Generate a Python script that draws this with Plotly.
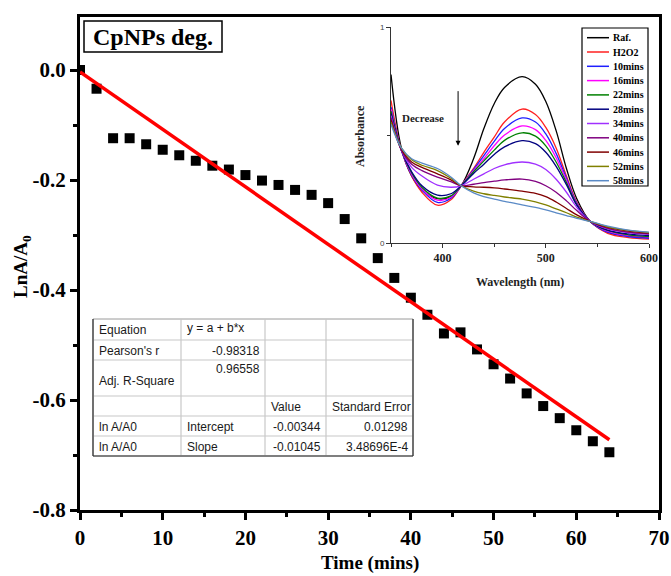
import plotly.graph_objects as go

# ---------------- main kinetics data ----------------
time_min = [0, 2, 4, 6, 8, 10, 12, 14, 16, 18, 20, 22, 24, 26, 28, 30, 32,
            34, 36, 38, 40, 42, 44, 46, 48, 50, 52, 54, 56, 58, 60, 62, 64]
ln_a_a0 = [0.0, -0.034, -0.124, -0.124, -0.135, -0.145, -0.155, -0.165, -0.174,
           -0.181, -0.191, -0.201, -0.209, -0.218, -0.227, -0.242, -0.271,
           -0.306, -0.342, -0.378, -0.414, -0.445, -0.479, -0.477, -0.508,
           -0.535, -0.561, -0.588, -0.611, -0.633, -0.655, -0.675, -0.695]
fit_intercept = -0.00344
fit_slope = -0.01045
fit_x = [0, 64]

x_ticks = [0, 10, 20, 30, 40, 50, 60, 70]
y_ticks = [0.0, -0.2, -0.4, -0.6, -0.8]
y_ticklabels = ["0.0", "-0.2", "-0.4", "-0.6", "-0.8"]

# ---------------- inset spectra data ----------------
wavelength = [350, 360, 370, 380, 395, 408, 418, 430, 440, 450, 460, 477,
              490, 500, 510, 520, 530, 543, 560, 580, 600]
series_names = ["Raf.", "H2O2", "10mins", "16mins", "22mins", "28mins",
                "34mins", "40mins", "46mins", "52mins", "58mins"]
series_colors = ["#000000", "#ff2020", "#1f1fff", "#ff00ff", "#008000", "#000080",
                 "#a030ff", "#800080", "#800000", "#808000", "#5a8ac6"]
abs_raf = [0.78, 0.44, 0.31, 0.245, 0.205, 0.215, 0.265, 0.39, 0.53, 0.645, 0.72, 0.77,
           0.735, 0.655, 0.52, 0.345, 0.205, 0.1, 0.05, 0.032, 0.025]
abs_h2o2 = [0.66, 0.43, 0.31, 0.235, 0.175, 0.2, 0.265, 0.345, 0.42, 0.49, 0.56, 0.62,
            0.595, 0.535, 0.44, 0.31, 0.19, 0.1, 0.045, 0.025, 0.018]
abs_10 = [0.63, 0.43, 0.315, 0.245, 0.188, 0.207, 0.265, 0.34, 0.405, 0.47, 0.53, 0.579,
          0.56, 0.505, 0.415, 0.3, 0.185, 0.1, 0.05, 0.03, 0.022]
abs_16 = [0.62, 0.43, 0.32, 0.25, 0.198, 0.212, 0.265, 0.335, 0.39, 0.45, 0.5, 0.542,
          0.525, 0.475, 0.395, 0.29, 0.18, 0.1, 0.055, 0.035, 0.027]
abs_22 = [0.61, 0.43, 0.325, 0.257, 0.208, 0.218, 0.265, 0.33, 0.38, 0.43, 0.475, 0.51,
          0.495, 0.45, 0.375, 0.28, 0.178, 0.1, 0.058, 0.038, 0.03]
abs_28 = [0.60, 0.43, 0.33, 0.265, 0.222, 0.228, 0.265, 0.322, 0.365, 0.41, 0.445, 0.474,
          0.46, 0.42, 0.355, 0.27, 0.175, 0.1, 0.06, 0.042, 0.034]
abs_34 = [0.59, 0.43, 0.35, 0.31, 0.268, 0.258, 0.265, 0.295, 0.32, 0.345, 0.362, 0.375,
          0.365, 0.34, 0.295, 0.235, 0.165, 0.1, 0.065, 0.048, 0.04]
abs_40 = [0.58, 0.43, 0.365, 0.335, 0.305, 0.284, 0.265, 0.272, 0.28, 0.286, 0.292, 0.296,
          0.285, 0.265, 0.235, 0.195, 0.15, 0.1, 0.068, 0.05, 0.042]
abs_46 = [0.57, 0.435, 0.375, 0.35, 0.32, 0.292, 0.265, 0.26, 0.258, 0.255, 0.25, 0.24,
          0.23, 0.215, 0.19, 0.16, 0.13, 0.1, 0.072, 0.055, 0.046]
abs_52 = [0.56, 0.44, 0.385, 0.36, 0.335, 0.3, 0.265, 0.24, 0.228, 0.22, 0.213, 0.203,
          0.19, 0.176, 0.158, 0.14, 0.12, 0.1, 0.075, 0.058, 0.048]
abs_58 = [0.55, 0.44, 0.39, 0.37, 0.345, 0.306, 0.265, 0.232, 0.215, 0.203, 0.193, 0.176,
          0.165, 0.153, 0.14, 0.127, 0.114, 0.1, 0.078, 0.06, 0.05]
spectra = [abs_raf, abs_h2o2, abs_10, abs_16, abs_22, abs_28,
           abs_34, abs_40, abs_46, abs_52, abs_58]

# ---------------- fit table text ----------------
table_rows = [
    ["Equation", "y = a + b*x", "", ""],
    ["Pearson's r", "-0.98318", "", ""],
    ["Adj. R-Square", "0.96558", "", ""],
    ["", "", "Value", "Standard Error"],
    ["ln A/A0", "Intercept", "-0.00344", "0.01298"],
    ["ln A/A0", "Slope", "-0.01045", "3.48696E-4"],
]

W, H = 671, 576


def xp(px):
    return px / W


def yp(py):
    return 1 - py / H


SERIF = "Liberation Serif"
SANS = "Liberation Sans"

fig = go.Figure()

# main scatter + fit
fig.add_trace(go.Scatter(x=time_min, y=ln_a_a0, mode="markers",
                         marker=dict(symbol="square", size=10, color="black"),
                         xaxis="x", yaxis="y"))
fit_y = [fit_intercept + fit_slope * t for t in fit_x]
fig.add_trace(go.Scatter(x=fit_x, y=fit_y, mode="lines",
                         line=dict(color="#ff0000", width=3.5),
                         xaxis="x", yaxis="y"))

# inset spectra
for name, col, vals in zip(series_names, series_colors, spectra):
    fig.add_trace(go.Scatter(x=wavelength, y=vals, mode="lines", name=name,
                             line=dict(color=col, width=1.3, shape="spline", smoothing=1.0),
                             xaxis="x2", yaxis="y2"))

shapes = []
annotations = []

# inset manual legend
leg_left, leg_top, leg_right, leg_bottom = 582, 28, 648, 186
shapes.append(dict(type="rect", xref="paper", yref="paper",
                   x0=xp(leg_left), x1=xp(leg_right), y0=yp(leg_bottom), y1=yp(leg_top),
                   line=dict(color="black", width=1.2), fillcolor="white", layer="above"))
for i, (name, col) in enumerate(zip(series_names, series_colors)):
    yc = 37.7 + i * 14.3
    shapes.append(dict(type="line", xref="paper", yref="paper",
                       x0=xp(587), x1=xp(609), y0=yp(yc), y1=yp(yc),
                       line=dict(color=col, width=1.5), layer="above"))
    annotations.append(dict(x=xp(611), y=yp(yc), xref="paper", yref="paper",
                            text=name, showarrow=False, xanchor="left", yanchor="middle",
                            font=dict(family=SERIF, size=10, color="black", weight="bold")))

# title box
shapes.append(dict(type="rect", xref="paper", yref="paper",
                   x0=xp(84), x1=xp(222), y0=yp(52), y1=yp(21),
                   line=dict(color="black", width=1.5), fillcolor="white"))
annotations.append(dict(x=xp(153), y=yp(37), xref="paper", yref="paper",
                        text="CpNPs deg.", showarrow=False, xanchor="center", yanchor="middle",
                        font=dict(family=SERIF, size=24, color="black", weight="bold")))

# fit table
cols_px = [93, 181, 265, 326, 413]
rows_px = [319, 340, 360, 396, 416, 436, 456]
shapes.append(dict(type="rect", xref="paper", yref="paper",
                   x0=xp(cols_px[0]), x1=xp(cols_px[-1]), y0=yp(rows_px[-1]), y1=yp(rows_px[0]),
                   line=dict(color="#9a9a9a", width=1), fillcolor="white"))
for r in rows_px[1:-1]:
    shapes.append(dict(type="line", xref="paper", yref="paper",
                       x0=xp(cols_px[0]), x1=xp(cols_px[-1]), y0=yp(r), y1=yp(r),
                       line=dict(color="#c8c8c8", width=1.2)))
for c in cols_px[1:-1]:
    shapes.append(dict(type="line", xref="paper", yref="paper",
                       x0=xp(c), x1=xp(c), y0=yp(rows_px[-1]), y1=yp(rows_px[0]),
                       line=dict(color="#c8c8c8", width=1.2)))
shapes.append(dict(type="line", xref="paper", yref="paper",
                   x0=xp(cols_px[0]), x1=xp(cols_px[-1]), y0=yp(rows_px[-1]), y1=yp(rows_px[-1]),
                   line=dict(color="#333333", width=1.2)))
shapes.append(dict(type="line", xref="paper", yref="paper",
                   x0=xp(cols_px[-1]), x1=xp(cols_px[-1]), y0=yp(rows_px[-1]), y1=yp(rows_px[0]),
                   line=dict(color="#333333", width=1.2)))
shapes.append(dict(type="line", xref="paper", yref="paper",
                   x0=xp(cols_px[0]), x1=xp(cols_px[0]), y0=yp(rows_px[-1]), y1=yp(rows_px[0]),
                   line=dict(color="#333333", width=1.2)))

right_aligned = {(1, 1), (2, 1), (4, 2), (4, 3), (5, 2), (5, 3)}
for ri, row in enumerate(table_rows):
    top, bot = rows_px[ri], rows_px[ri + 1]
    for ci, txt in enumerate(row):
        if not txt:
            continue
        if ri == 2 and ci == 0:
            yc = top + 21
        elif ri == 2:
            yc = top + 9
        elif ri == 0 and ci == 1:
            yc = top + 8.5
        else:
            yc = (top + bot) / 2 + 0.5
        if (ri, ci) in right_aligned:
            xa, xanc = cols_px[ci + 1] - 3, "right"
        else:
            xa, xanc = cols_px[ci] + 4, "left"
        annotations.append(dict(x=xp(xa), y=yp(yc), xref="paper", yref="paper",
                                text=txt, showarrow=False, xanchor=xanc, yanchor="middle",
                                font=dict(family=SANS, size=12, color="#1a1a1a")))

# axis titles
annotations.append(dict(x=xp(369.5), y=yp(563), xref="paper", yref="paper",
                        text="Time (mins)", showarrow=False, xanchor="center", yanchor="middle",
                        font=dict(family=SERIF, size=19, color="black", weight="bold")))
annotations.append(dict(x=xp(22), y=yp(267), xref="paper", yref="paper",
                        text="LnA/A<sub>0</sub>", showarrow=False, textangle=-90,
                        xanchor="center", yanchor="middle",
                        font=dict(family=SERIF, size=19, color="black", weight="bold")))
annotations.append(dict(x=xp(520), y=yp(282), xref="paper", yref="paper",
                        text="Wavelength (nm)", showarrow=False, xanchor="center", yanchor="middle",
                        font=dict(family=SERIF, size=12, color="#222222", weight="bold")))
annotations.append(dict(x=xp(360), y=yp(136), xref="paper", yref="paper",
                        text="Absorbance", showarrow=False, textangle=-90,
                        xanchor="center", yanchor="middle",
                        font=dict(family=SERIF, size=12, color="#222222", weight="bold")))
annotations.append(dict(x=xp(423), y=yp(118), xref="paper", yref="paper",
                        text="Decrease", showarrow=False, xanchor="center", yanchor="middle",
                        font=dict(family=SERIF, size=11, color="#222222", weight="bold")))
annotations.append(dict(x=415, y=0.45, xref="x2", yref="y2", ax=415, ay=0.71,
                        axref="x2", ayref="y2", text="", showarrow=True,
                        arrowhead=2, arrowsize=1, arrowwidth=1, arrowcolor="black"))

tick_font = dict(family=SERIF, size=21, color="black", weight="bold")

fig.update_layout(
    width=W, height=H,
    margin=dict(l=0, r=0, t=0, b=0, pad=0, autoexpand=False),
    paper_bgcolor="white", plot_bgcolor="white",
    showlegend=False,
    xaxis=dict(domain=[xp(80), xp(659)], range=[0, 70], tickvals=x_ticks, automargin=False,
               ticks="outside", ticklen=7, tickwidth=3, tickcolor="black",
               showline=True, linewidth=3, linecolor="black", mirror=True,
               showgrid=False, zeroline=False, tickfont=tick_font,
               minor=dict(ticks="outside", ticklen=4, tickwidth=2.5, tickcolor="black", dtick=5, tick0=0),
               anchor="y"),
    yaxis=dict(domain=[yp(510), yp(17)], range=[-0.8, 0.0964], tickvals=y_ticks, automargin=False,
               ticktext=y_ticklabels,
               ticks="outside", ticklen=7, tickwidth=3, tickcolor="black",
               showline=True, linewidth=3, linecolor="black", mirror=True,
               showgrid=False, zeroline=False, tickfont=tick_font,
               minor=dict(ticks="outside", ticklen=4, tickwidth=2.5, tickcolor="black", dtick=0.1, tick0=0),
               anchor="x"),
    xaxis2=dict(domain=[xp(391), xp(649)], range=[350, 600], tickvals=[400, 500, 600], automargin=False,
                ticks="outside", ticklen=4, tickwidth=1, tickcolor="#333333",
                showline=True, linewidth=1, linecolor="#333333",
                showgrid=False, zeroline=False,
                tickfont=dict(family=SERIF, size=12, color="#222222", weight="bold"),
                minor=dict(ticks="outside", ticklen=3, tickwidth=1, tickcolor="#333333", dtick=50, tick0=350),
                anchor="y2"),
    yaxis2=dict(domain=[yp(243), yp(27)], range=[0, 1], tickvals=[0, 1], ticktext=["0", "1"], automargin=False,
                ticks="outside", ticklen=4, tickwidth=1, tickcolor="#333333",
                showline=True, linewidth=1, linecolor="#333333",
                showgrid=False, zeroline=False,
                tickfont=dict(family=SANS, size=8, color="#444444"),
                minor=dict(ticks="outside", ticklen=3, tickwidth=1, tickcolor="#333333", dtick=0.5, tick0=0),
                anchor="x2"),
    shapes=shapes,
    annotations=annotations,
)

fig.write_html("out.html")
